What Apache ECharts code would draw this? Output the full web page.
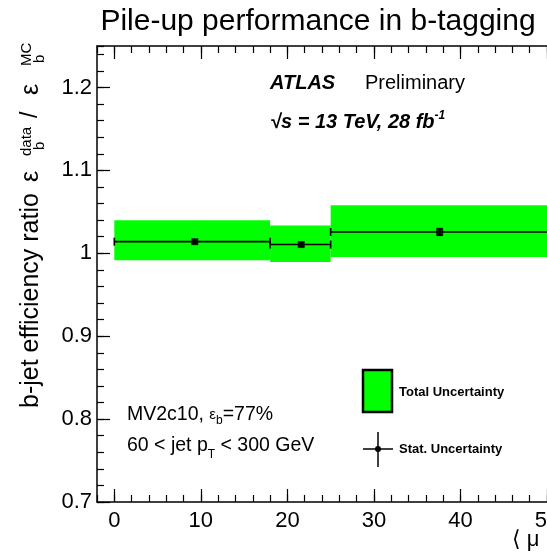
<!DOCTYPE html>
<html>
<head>
<meta charset="utf-8">
<script src="https://cdn.jsdelivr.net/npm/echarts@6.0.0/dist/echarts.min.js"></script>
<style>
html, body { margin: 0; padding: 0; background: #fff; }
#chart { width: 547px; height: 560px; }
</style>
</head>
<body>
<div id="chart"></div>
<script>
// pile-up bins in <mu>
const binLow = [0, 18, 25];
const binHigh = [18, 25, 60];
const binCenter = [9.3, 21.6, 37.6];
const ratio = [1.014, 1.0105, 1.0257];
const statErr = [0.002, 0.002, 0.004];
const totalLow = [0.9915, 0.9895, 0.9955];
const totalHigh = [1.0398, 1.0335, 1.058];
const xMajorTicks = [0, 10, 20, 30, 40, 50];
const yMajorTicks = [0.7, 0.8, 0.9, 1.0, 1.1, 1.2];

const FONT = '"Liberation Sans", Arial, Helvetica, sans-serif';
const chart = echarts.init(document.getElementById('chart'));

const bandData = binLow.map((lo, i) => [lo, binHigh[i], totalLow[i], totalHigh[i]]);
const errData = binLow.map((lo, i) => [lo, binHigh[i], binCenter[i], ratio[i], statErr[i]]);
const pointData = binCenter.map((x, i) => [x, ratio[i]]);

const black = { color: '#000', width: 1.2 };

function xAxis(position, major) {
  const ax = {
    type: 'value', position, min: -2, max: 50,
    axisLine: { show: !major, onZero: false, lineStyle: { color: '#000', width: 1.5 } },
    axisTick: { show: true, inside: true, length: major ? 13 : 7, lineStyle: black },
    axisLabel: { show: false },
    splitLine: { show: false },
  };
  if (major) {
    ax.axisTick.customValues = xMajorTicks;
    if (position === 'bottom') {
      ax.axisLabel = {
        show: true, customValues: xMajorTicks, margin: 8,
        color: '#000', fontSize: 22, fontFamily: FONT,
      };
    }
  } else {
    ax.interval = 2;
  }
  return ax;
}

function yAxis(major) {
  const ax = {
    type: 'value', position: 'left', min: 0.7, max: 1.25,
    axisLine: { show: !major, onZero: false, lineStyle: { color: '#000', width: 1.5 } },
    axisTick: { show: true, inside: true, length: major ? 13 : 7, lineStyle: black },
    axisLabel: { show: false },
    splitLine: { show: false },
  };
  if (major) {
    ax.axisTick.customValues = yMajorTicks;
    ax.axisLabel = {
      show: true, customValues: yMajorTicks, margin: 5,
      color: '#000', fontSize: 22, fontFamily: FONT,
      formatter: (v) => String(+Number(v).toFixed(1)),
    };
  } else {
    ax.interval = 0.02;
  }
  return ax;
}

function clipRect(rect, cs) {
  return echarts.graphic.clipRectByRect(rect, {
    x: cs.x, y: cs.y, width: cs.width, height: cs.height,
  });
}

function renderBand(params, api) {
  const p0 = api.coord([api.value(0), api.value(3)]);
  const p1 = api.coord([api.value(1), api.value(2)]);
  const shape = clipRect({ x: p0[0], y: p0[1], width: p1[0] - p0[0], height: p1[1] - p0[1] }, params.coordSys);
  return shape && { type: 'rect', shape, style: { fill: '#00ff00' } };
}

function renderErr(params, api) {
  const cs = params.coordSys;
  const right = cs.x + cs.width;
  const lo = api.coord([api.value(0), api.value(3)]);
  const hi = api.coord([api.value(1), api.value(3)]);
  const top = api.coord([api.value(2), api.value(3) + api.value(4)]);
  const bot = api.coord([api.value(2), api.value(3) - api.value(4)]);
  const style = { stroke: '#000', lineWidth: 1.6 };
  const x1 = Math.min(hi[0], right);
  const children = [
    { type: 'line', shape: { x1: lo[0], y1: lo[1], x2: x1, y2: lo[1] }, style },
    { type: 'line', shape: { x1: lo[0], y1: lo[1] - 4, x2: lo[0], y2: lo[1] + 4 }, style },
    { type: 'line', shape: { x1: top[0], y1: top[1], x2: bot[0], y2: bot[1] }, style },
    { type: 'line', shape: { x1: top[0] - 3, y1: top[1], x2: top[0] + 3, y2: top[1] }, style },
    { type: 'line', shape: { x1: bot[0] - 3, y1: bot[1], x2: bot[0] + 3, y2: bot[1] }, style },
  ];
  if (hi[0] <= right) {
    children.push({ type: 'line', shape: { x1: hi[0], y1: hi[1] - 4, x2: hi[0], y2: hi[1] + 4 }, style });
  }
  return { type: 'group', children };
}

function vText(text, x, y, size) {
  return {
    type: 'text', x, y, rotation: Math.PI / 2, silent: true,
    style: { text, font: size + 'px ' + FONT, fill: '#000', textAlign: 'left', textVerticalAlign: 'middle' },
  };
}

const option = {
  animation: false,
  backgroundColor: '#fff',
  grid: { left: 97, right: 0, top: 46, bottom: 58, outerBoundsMode: 'none' },
  xAxis: [xAxis('bottom', false), xAxis('bottom', true), xAxis('top', false), xAxis('top', true)],
  yAxis: [yAxis(false), yAxis(true)],
  series: [
    {
      type: 'custom', xAxisIndex: 0, yAxisIndex: 0, z: 1, silent: true,
      renderItem: renderBand, encode: { x: [0, 1], y: [2, 3] }, data: bandData,
    },
    {
      type: 'custom', xAxisIndex: 0, yAxisIndex: 0, z: 3, silent: true,
      renderItem: renderErr, encode: { x: [0, 1], y: 3 }, data: errData,
    },
    {
      type: 'scatter', xAxisIndex: 0, yAxisIndex: 0, z: 4, silent: true,
      symbol: 'rect', symbolSize: 7, itemStyle: { color: '#000' }, data: pointData,
    },
  ],
  graphic: [
    {
      type: 'text', x: 318, y: 22, silent: true,
      style: { text: 'Pile-up performance in b-tagging', font: '30px ' + FONT, fill: '#000', textAlign: 'center', textVerticalAlign: 'middle' },
    },
    vText('b-jet efficiency ratio', 31, 408, 25),
    vText('ε', 31, 182, 25),
    vText('data', 27, 156, 15),
    vText('b', 40, 150, 15),
    vText('/', 31, 118, 23),
    vText('ε', 31, 95, 25),
    vText('MC', 27, 66, 15),
    vText('b', 40, 63, 15),
    {
      type: 'text', x: 512, y: 540, silent: true,
      style: { text: '⟨ μ ⟩', font: '22px "Liberation Sans", "DejaVu Sans", sans-serif', fill: '#000', textAlign: 'left', textVerticalAlign: 'middle' },
    },
    {
      type: 'text', x: 270, y: 83, silent: true,
      style: { text: 'ATLAS', font: 'italic bold 20px ' + FONT, fill: '#000', textAlign: 'left', textVerticalAlign: 'middle' },
    },
    {
      type: 'text', x: 365, y: 83, silent: true,
      style: { text: 'Preliminary', font: '20px ' + FONT, fill: '#000', textAlign: 'left', textVerticalAlign: 'middle' },
    },
    {
      type: 'text', x: 270, y: 122, silent: true,
      style: {
        text: '{a|√s = 13 TeV, 28 fb}{s|-1}', textAlign: 'left', textVerticalAlign: 'middle',
        rich: {
          a: { fontFamily: FONT, fontSize: 20, fontStyle: 'italic', fontWeight: 'bold', color: '#000', lineHeight: 24 },
          s: { fontFamily: FONT, fontSize: 12, fontStyle: 'italic', fontWeight: 'bold', color: '#000', verticalAlign: 'top', lineHeight: 24 },
        },
      },
    },
    {
      type: 'text', x: 127, y: 415, silent: true,
      style: {
        text: '{a|MV2c10, }{e|ε}{b|b}{a|=77%}', textAlign: 'left', textVerticalAlign: 'middle',
        rich: {
          a: { fontFamily: FONT, fontSize: 19.5, color: '#000', lineHeight: 24 },
          e: { fontFamily: FONT, fontSize: 15, color: '#444', lineHeight: 24 },
          b: { fontFamily: FONT, fontSize: 12, color: '#444', verticalAlign: 'bottom', lineHeight: 24 },
        },
      },
    },
    {
      type: 'text', x: 127, y: 446, silent: true,
      style: {
        text: '{a|60 < jet p}{b|T}{a| < 300 GeV}', textAlign: 'left', textVerticalAlign: 'middle',
        rich: {
          a: { fontFamily: FONT, fontSize: 19.5, color: '#000', lineHeight: 24 },
          b: { fontFamily: FONT, fontSize: 12, color: '#000', verticalAlign: 'bottom', lineHeight: 30 },
        },
      },
    },
    {
      type: 'rect', silent: true, shape: { x: 363, y: 370, width: 29, height: 42 },
      style: { fill: '#00ff00', stroke: '#000', lineWidth: 2.5 },
    },
    {
      type: 'text', x: 399, y: 392, silent: true,
      style: { text: 'Total Uncertainty', font: 'bold 13px ' + FONT, fill: '#000', textAlign: 'left', textVerticalAlign: 'middle' },
    },
    { type: 'line', silent: true, shape: { x1: 363, y1: 449, x2: 393, y2: 449 }, style: { stroke: '#000', lineWidth: 1.5 } },
    { type: 'line', silent: true, shape: { x1: 378, y1: 432, x2: 378, y2: 467 }, style: { stroke: '#000', lineWidth: 1.5 } },
    { type: 'circle', silent: true, shape: { cx: 378, cy: 449, r: 3 }, style: { fill: '#000' } },
    {
      type: 'text', x: 399, y: 449, silent: true,
      style: { text: 'Stat. Uncertainty', font: 'bold 13px ' + FONT, fill: '#000', textAlign: 'left', textVerticalAlign: 'middle' },
    },
  ],
};

chart.setOption(option);
</script>
</body>
</html>
